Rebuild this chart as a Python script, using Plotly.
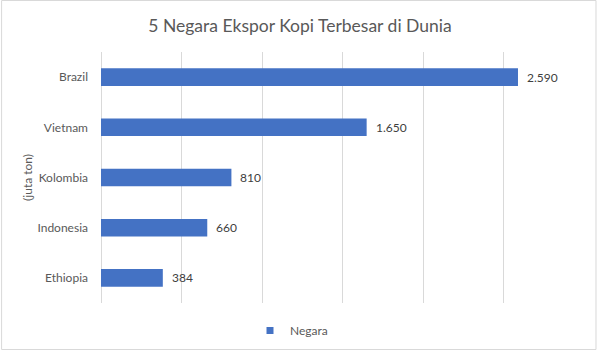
import plotly.graph_objects as go

countries = ["Brazil", "Vietnam", "Kolombia", "Indonesia", "Ethiopia"]
values = [2590, 1650, 810, 660, 384]
labels = ["2.590", "1.650", "810", "660", "384"]
title_text = "5 Negara Ekspor Kopi Terbesar di Dunia"
series_name = "Negara"
yaxis_title = "(juta ton)"

FONT = "Lato"
BLUE = "#4472C4"
W, H = 600, 351
ml, mr, mt, mb = 100.5, 16, 52, 48
pw, ph = W - ml - mr, H - mt - mb

fig = go.Figure()
fig.add_trace(go.Bar(
    x=values, y=countries, orientation="h", name=series_name,
    marker=dict(color=BLUE, line=dict(width=0)),
    showlegend=False,
))
# legend entry with a small square swatch
fig.add_trace(go.Scatter(
    x=[None], y=[None], mode="markers", name=series_name,
    marker=dict(symbol="square", size=7, color=BLUE, line=dict(width=0)),
    showlegend=True,
))

annotations = [dict(text=t, x=v, y=c, xref="x", yref="y", xanchor="left", yanchor="middle",
                    xshift=7, showarrow=False,
                    font=dict(family=FONT, size=12, color="#404040"))
               for c, v, t in zip(countries, values, labels)]
annotations.append(dict(text=yaxis_title, xref="paper", yref="paper",
                        x=-(ml - 27) / pw, y=0.5, xanchor="center", yanchor="middle",
                        textangle=-90, showarrow=False,
                        font=dict(family=FONT, size=12, color="#595959")))

fig.update_layout(
    width=W, height=H,
    margin=dict(l=ml, r=mr, t=mt, b=mb, pad=0, autoexpand=False),
    paper_bgcolor="white", plot_bgcolor="white",
    title=dict(text=title_text, x=0.5, xanchor="center", y=1 - 26 / H, yanchor="middle",
               font=dict(family=FONT, size=17.5, color="#595959")),
    bargap=0.65,
    xaxis=dict(range=[0, 3000], dtick=500, showgrid=True, gridcolor="#D9D9D9", gridwidth=1,
               showticklabels=False, zeroline=True, zerolinecolor="#D9D9D9", zerolinewidth=1,
               showline=False, fixedrange=True),
    yaxis=dict(categoryorder="array", categoryarray=countries[::-1], showgrid=False,
               tickfont=dict(family=FONT, size=12, color="#595959"), ticklabelstandoff=12,
               showline=False, ticks="", fixedrange=True),
    legend=dict(orientation="h", xref="container", yref="container",
                x=250 / W, xanchor="left", y=1 - 330.5 / H, yanchor="middle",
                font=dict(family=FONT, size=12, color="#595959"),
                itemwidth=30, bgcolor="rgba(0,0,0,0)"),
    annotations=annotations,
    shapes=[dict(type="rect", xref="paper", yref="paper",
                 x0=-(ml - 1) / pw, x1=1 + (mr - 4) / pw,
                 y0=-(mb - 1.5) / ph, y1=1 + (mt - 0.5) / ph,
                 line=dict(color="#D9D9D9", width=1), layer="below")],
)

fig.write_html("out.html")
